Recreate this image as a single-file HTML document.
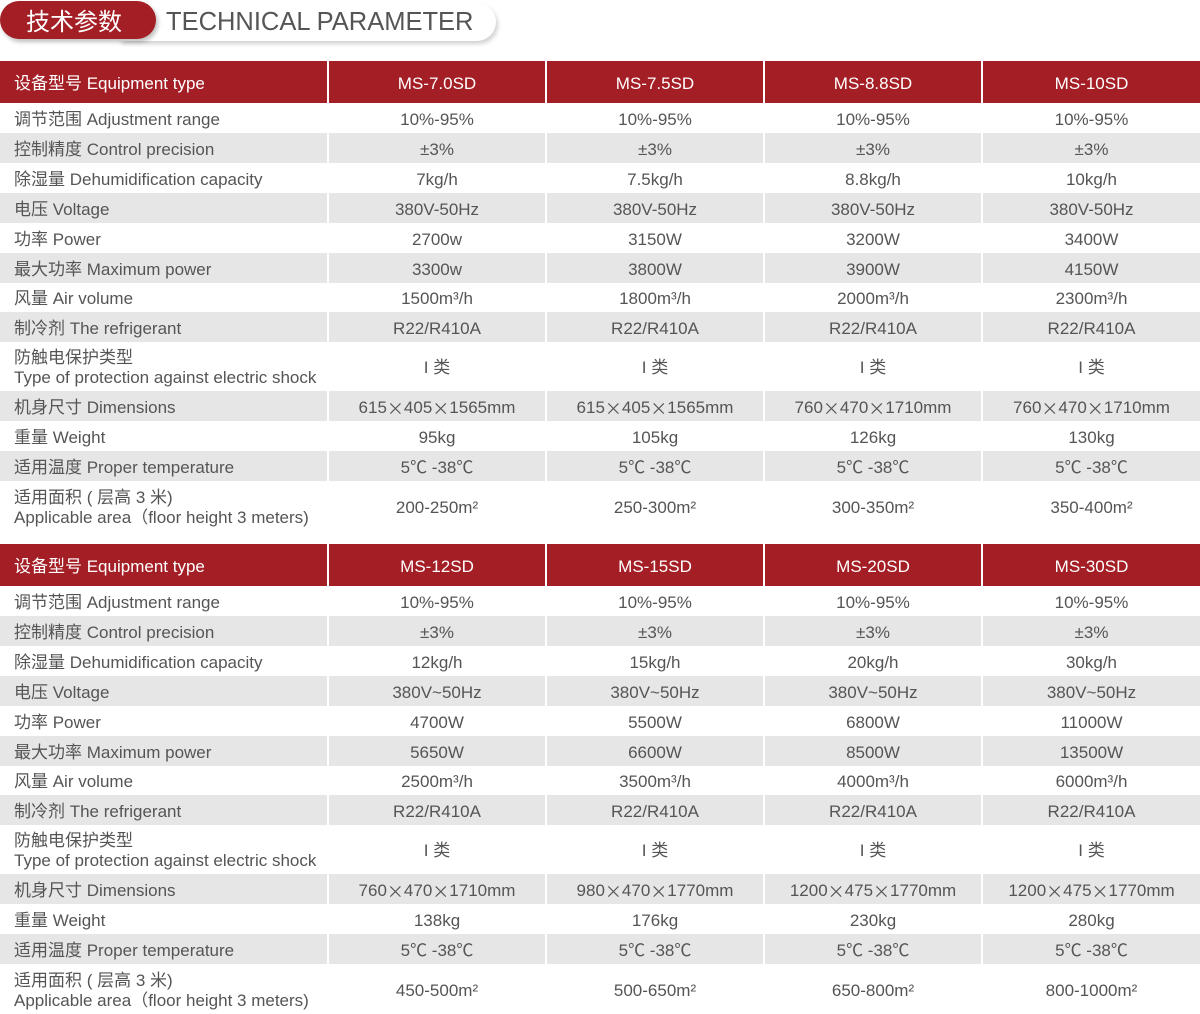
<!DOCTYPE html>
<html><head><meta charset="utf-8">
<style>
body{margin:0;width:1200px;height:1014px;background:#fff;overflow:hidden;position:relative;font-family:"Liberation Sans","Noto Sans CJK SC",sans-serif;color:#555;}
.abs{position:absolute;box-sizing:border-box;}
.cell{position:absolute;box-sizing:border-box;display:flex;align-items:center;justify-content:center;font-size:17px;line-height:20px;white-space:nowrap;padding-top:3px;}
.lab{justify-content:flex-start;padding-left:14px;}
.hd{background:#a41e25;color:#fff;font-size:17px;}
.gr{background:#e6e6e6;}
.x{font-family:"Noto Sans CJK SC",sans-serif;}
</style></head><body>
<div class="abs" style="left:120px;top:3px;width:376px;height:38px;border-radius:0 19px 19px 0;background:#fff;box-shadow:2px 3px 4px rgba(0,0,0,0.18);"></div>
<div class="abs" style="left:0;top:1px;width:156px;height:38px;border-radius:19px;background:#a41e25;box-shadow:2px 3px 4px rgba(0,0,0,0.25);color:#fff;font-size:24px;line-height:38px;padding-left:26px;font-family:'Noto Sans CJK SC',sans-serif;">技术参数</div>
<div class="abs" style="left:166px;top:4px;font-size:25.5px;line-height:36px;color:#555;">TECHNICAL PARAMETER</div>
<div id="root"></div>
<script>
const labels=[["设备型号 Equipment type"],["调节范围 Adjustment range"],["控制精度 Control precision"],["除湿量 Dehumidification capacity"],["电压 Voltage"],["功率 Power"],["最大功率 Maximum power"],["风量 Air volume"],["制冷剂 The refrigerant"],["防触电保护类型","Type of protection against electric shock"],["机身尺寸 Dimensions"],["重量 Weight"],["适用温度 Proper temperature"],["适用面积 ( 层高 3 米)","Applicable area（floor height 3 meters)"]];
const table1=[["MS-7.0SD","MS-7.5SD","MS-8.8SD","MS-10SD"],["10%-95%","10%-95%","10%-95%","10%-95%"],["±3%","±3%","±3%","±3%"],["7kg/h","7.5kg/h","8.8kg/h","10kg/h"],["380V-50Hz","380V-50Hz","380V-50Hz","380V-50Hz"],["2700w","3150W","3200W","3400W"],["3300w","3800W","3900W","4150W"],["1500m³/h","1800m³/h","2000m³/h","2300m³/h"],["R22/R410A","R22/R410A","R22/R410A","R22/R410A"],["I 类","I 类","I 类","I 类"],["615×405×1565mm","615×405×1565mm","760×470×1710mm","760×470×1710mm"],["95kg","105kg","126kg","130kg"],["5℃ -38℃","5℃ -38℃","5℃ -38℃","5℃ -38℃"],["200-250m²","250-300m²","300-350m²","350-400m²"]];
const table2=[["MS-12SD","MS-15SD","MS-20SD","MS-30SD"],["10%-95%","10%-95%","10%-95%","10%-95%"],["±3%","±3%","±3%","±3%"],["12kg/h","15kg/h","20kg/h","30kg/h"],["380V~50Hz","380V~50Hz","380V~50Hz","380V~50Hz"],["4700W","5500W","6800W","11000W"],["5650W","6600W","8500W","13500W"],["2500m³/h","3500m³/h","4000m³/h","6000m³/h"],["R22/R410A","R22/R410A","R22/R410A","R22/R410A"],["I 类","I 类","I 类","I 类"],["760×470×1710mm","980×470×1770mm","1200×475×1770mm","1200×475×1770mm"],["138kg","176kg","230kg","280kg"],["5℃ -38℃","5℃ -38℃","5℃ -38℃","5℃ -38℃"],["450-500m²","500-650m²","650-800m²","800-1000m²"]];
const rowH=[42,30,30,30,30,30,30,29,30,49,30,30,30,50];
const colX=[0,329,547,765,983], colW=[327,216,216,216,217];
const root=document.getElementById('root');
function build(data,top){
  let y=top;
  for(let r=0;r<data.length;r++){
    const h=rowH[r];
    const cls=r===0?' hd':(r%2===0?' gr':'');
    const lab=document.createElement('div');
    lab.className='cell lab'+cls;
    
    
    lab.style.cssText=`left:${colX[0]}px;top:${y}px;width:${colW[0]}px;height:${h}px;`;
    lab.innerHTML=labels[r].join('<br>');
    root.appendChild(lab);
    for(let c=0;c<4;c++){
      const d=document.createElement('div');
      d.className='cell'+cls;
      
      
      d.style.cssText=`left:${colX[c+1]}px;top:${y}px;width:${colW[c+1]}px;height:${h}px;`;
      d.innerHTML=data[r][c].split('×').join('<span class="x">×</span>');
      root.appendChild(d);
    }
    y+=h;
  }
}
build(table1,61);
build(table2,544);
</script>
</body></html>
